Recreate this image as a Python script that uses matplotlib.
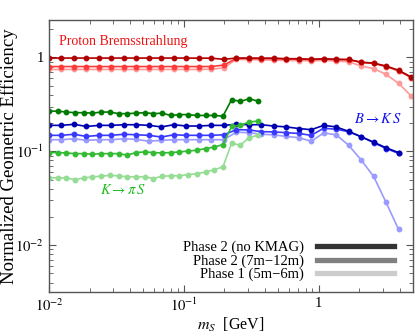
import numpy as np
import matplotlib
matplotlib.use("Agg")
import matplotlib.pyplot as plt
from matplotlib.ticker import FuncFormatter, LogLocator, NullFormatter
from matplotlib.lines import Line2D

plt.rcParams['font.family'] = ['Liberation Serif', 'DejaVu Serif']
plt.rcParams['mathtext.fontset'] = 'stix'

# mass grids (GeV)
m_grid = [0.01, 0.01238, 0.01532, 0.01896, 0.02346, 0.02904, 0.03594, 0.04448,
          0.05505, 0.06813, 0.08433, 0.1044, 0.1292, 0.1599, 0.1979, 0.2449,
          0.3031, 0.3752, 0.4643, 0.5747, 0.7112, 0.8801, 1.089, 1.348, 1.669,
          2.065, 2.556, 3.164, 3.915, 4.846]
m_grid_K = [0.01, 0.01160, 0.01346, 0.01561, 0.01811, 0.02102, 0.02438, 0.02828,
            0.03281, 0.03806, 0.04416, 0.05123, 0.05943, 0.06895, 0.07998,
            0.09279, 0.1076, 0.1249, 0.1449, 0.1681, 0.1950, 0.2262, 0.2624,
            0.3044, 0.3532]

# Proton bremsstrahlung
brem_nokmag = [0.985, 0.985, 0.985, 0.985, 0.985, 0.985, 0.985, 0.985, 0.985, 0.985,
               0.985, 0.985, 0.983, 0.983, 0.955, 0.985, 0.985, 0.983, 0.983, 0.97,
               0.97, 0.955, 0.97, 0.955, 0.952, 0.89, 0.87, 0.81, 0.73, 0.62]
brem_7_12 = [0.80, 0.80, 0.80, 0.80, 0.80, 0.80, 0.80, 0.80, 0.80, 0.80,
             0.80, 0.80, 0.80, 0.80, 0.83, 0.975, 0.975, 0.97, 0.97, 0.96,
             0.96, 0.95, 0.96, 0.95, 0.945, 0.885, 0.865, 0.80, 0.72, 0.61]
brem_5_6 = [0.745, 0.745, 0.745, 0.745, 0.745, 0.745, 0.745, 0.745, 0.745, 0.745,
            0.745, 0.745, 0.745, 0.75, 0.775, 0.955, 0.95, 0.94, 0.935, 0.93,
            0.925, 0.92, 0.93, 0.915, 0.90, 0.81, 0.76, 0.66, 0.53, 0.39]

# B -> K S
bks_nokmag = [0.189, 0.189, 0.194, 0.184, 0.189, 0.189, 0.192, 0.192, 0.189, 0.182,
              0.192, 0.186, 0.186, 0.189, 0.189, 0.194, 0.192, 0.192, 0.186, 0.182,
              0.175, 0.170, 0.189, 0.182, 0.163, 0.143, 0.125, 0.109, 0.097]
bks_7_12 = [0.148, 0.148, 0.152, 0.144, 0.148, 0.148, 0.152, 0.150, 0.148, 0.142,
            0.150, 0.148, 0.148, 0.148, 0.150, 0.170, 0.169, 0.162, 0.161, 0.158,
            0.155, 0.148, 0.176, 0.172, 0.162, 0.143, 0.124, 0.107, 0.095]
bks_5_6 = [0.133, 0.133, 0.136, 0.131, 0.133, 0.133, 0.136, 0.134, 0.128, 0.131,
           0.133, 0.133, 0.133, 0.133, 0.133, 0.160, 0.158, 0.152, 0.150, 0.144,
           0.140, 0.128, 0.157, 0.150, 0.116, 0.081, 0.054, 0.0285, 0.0147]

# K -> pi S
kps_nokmag = [0.268, 0.268, 0.262, 0.258, 0.258, 0.255, 0.262, 0.262, 0.252, 0.252,
              0.255, 0.258, 0.252, 0.255, 0.241, 0.246, 0.246, 0.241, 0.241, 0.241,
              0.237, 0.355, 0.340, 0.363, 0.343]
kps_7_12 = [0.097, 0.097, 0.096, 0.0945, 0.0945, 0.093, 0.0945, 0.0945, 0.0945, 0.091,
            0.097, 0.0985, 0.097, 0.096, 0.097, 0.0985, 0.1007, 0.1028, 0.107, 0.111,
            0.118, 0.184, 0.189, 0.205, 0.210]
kps_5_6 = [0.0525, 0.052, 0.052, 0.050, 0.052, 0.0535, 0.0543, 0.0555, 0.0548, 0.0535,
           0.0535, 0.0535, 0.0513, 0.0543, 0.0548, 0.0548, 0.0565, 0.0578, 0.0601,
           0.0638, 0.0683, 0.122, 0.116, 0.140, 0.148]

legend_labels = ["Phase 2 (no KMAG)", "Phase 2 (7m\u221212m)", "Phase 1 (5m\u22126m)"]

fig = plt.figure(figsize=(4.15, 3.35), dpi=100)
ax = fig.add_axes([0.118, 0.128, 0.877, 0.812])

kw = dict(marker='o', markersize=3.2, linewidth=1.2)
# light first, dark on top
ax.plot(m_grid, brem_5_6, color='#ff9a9a', **kw)
ax.plot(m_grid, brem_7_12, color='#ff3a3a', **kw)
ax.plot(m_grid, brem_nokmag, color='#b00000', **kw)

nb = len(bks_nokmag)
ax.plot(m_grid[:nb], bks_5_6, color='#9a9aff', **kw)
ax.plot(m_grid[:nb], bks_7_12, color='#3a3aff', **kw)
ax.plot(m_grid[:nb], bks_nokmag, color='#0000b0', **kw)

ax.plot(m_grid_K, kps_5_6, color='#95dd95', **kw)
ax.plot(m_grid_K, kps_7_12, color='#33bb33', **kw)
ax.plot(m_grid_K, kps_nokmag, color='#007a00', **kw)

ax.set_xscale('log')
ax.set_yscale('log')
ax.set_xlim(0.01, 5.0)
ax.set_ylim(10**-2.5, 2.5)

def fmt(v, pos):
    e = int(round(np.log10(v)))
    if e == 0:
        return '1'
    return r'$10^{%d}$' % e

for axis in (ax.xaxis, ax.yaxis):
    axis.set_major_locator(LogLocator(base=10, numticks=10))
    axis.set_minor_locator(LogLocator(base=10, subs=np.arange(2, 10), numticks=10))
    axis.set_major_formatter(FuncFormatter(fmt))
    axis.set_minor_formatter(NullFormatter())

ax.tick_params(which='both', direction='in', top=True, right=True, labelsize=10.5,
               color='#555555')
ax.tick_params(which='major', length=5, width=0.8)
ax.tick_params(which='minor', length=3, width=0.6)
for s in ax.spines.values():
    s.set_color('#555555')
    s.set_linewidth(1.0)

ax.set_xlabel(r'$m_S$  [GeV]', fontsize=11.5, labelpad=1)
ax.set_ylabel('Normalized Geometric Efficiency', fontsize=13.5)
ax.yaxis.set_label_coords(-0.085, 0.5)

ax.text(0.0119, 1.48, 'Proton Bremsstrahlung', color='#ee1111', fontsize=10,
        ha='left', va='center')
ax.text(1.82, 0.219, r'$B\rightarrow K\,S$', color='#1111ee', fontsize=10.5,
        ha='left', va='center')
ax.text(0.0239, 0.0385, r'$K\rightarrow \pi\,S$', color='#22bb22', fontsize=10.5,
        ha='left', va='center')

handles = [Line2D([], [], color='#333333', lw=3.8),
           Line2D([], [], color='#808080', lw=3.8),
           Line2D([], [], color='#cccccc', lw=3.8)]
ax.legend(handles, legend_labels, loc='lower right', frameon=False, fontsize=10.5,
          markerfirst=False, handlelength=5.3, labelspacing=0.0, handletextpad=0.9,
          borderaxespad=0.9, bbox_to_anchor=(1.0, -0.03))

fig.savefig('out.png', dpi=100)
